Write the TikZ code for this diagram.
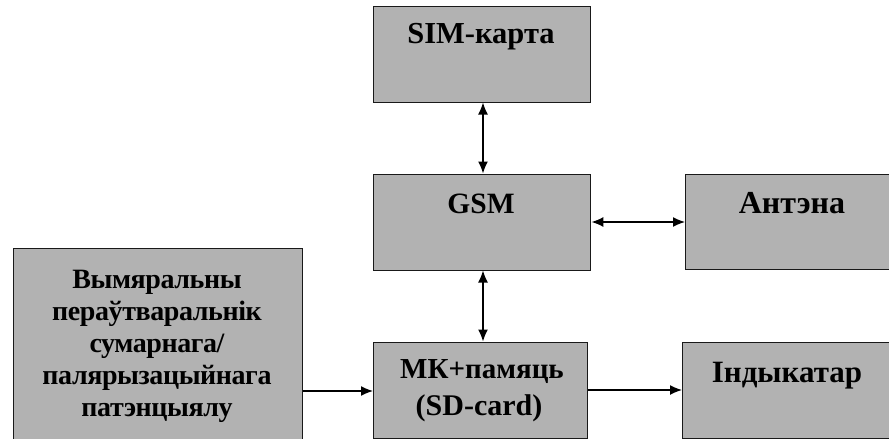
\documentclass[tikz,border=0pt]{standalone}
\usepackage{fontspec}
\setmainfont{Liberation Serif}
\usetikzlibrary{arrows.meta}
\begin{document}
\begin{tikzpicture}[x=1pt,y=-1pt,
  blk/.style={draw=black!90, line width=1.4pt, fill=boxgray, inner sep=0pt},
  txt/.style={font=\bfseries, anchor=base, inner sep=0pt, text=black},
  conn/.style={line width=1.4pt, -{Latex[length=12pt,width=10pt]}},
  bconn/.style={line width=1.4pt, {Latex[length=12pt,width=10pt]}-{Latex[length=12pt,width=10pt]}}]
\definecolor{boxgray}{RGB}{178,178,178}
\useasboundingbox (0,0) rectangle (889,439);
\clip (0,0) rectangle (889,439);
% boxes
\node[blk, minimum width=217pt, minimum height=96pt, anchor=north west] (sim) at (373,6) {};
\node[blk, minimum width=217pt, minimum height=96pt, anchor=north west] (gsm) at (373,174) {};
\node[blk, minimum width=220pt, minimum height=95pt, anchor=north west] (ant) at (685,174) {};
\node[blk, minimum width=214pt, minimum height=96pt, anchor=north west] (mk) at (373,342) {};
\node[blk, minimum width=220pt, minimum height=96pt, anchor=north west] (ind) at (682,342) {};
\node[blk, minimum width=289pt, minimum height=200pt, anchor=north west] (meas) at (13,248) {};
% texts
\node[txt, font=\bfseries\fontsize{30.5}{36}\selectfont] (simt) at (481,43) {SIM-карта};
\node[txt, font=\bfseries\fontsize{29.5}{36}\selectfont] (gsmt) at (481,213) {GSM};
\node[txt, font=\bfseries\fontsize{32}{36}\selectfont] (antt) at (792,213) {Антэна};
\node[txt, font=\bfseries\fontsize{29}{36}\selectfont] (mkt1) at (482,378) {МК+памяць};
\node[txt, font=\bfseries\fontsize{30}{36}\selectfont] (mkt2) at (479,415) {(SD-card)};
\node[txt, font=\bfseries\fontsize{31}{36}\selectfont] (indt) at (787,382) {Індыкатар};
\tikzset{lt/.style={txt, font=\bfseries\fontsize{28}{32}\selectfont\addfontfeature{LetterSpace=-1.5}}}
\node[lt] (m1) at (157,288) {Вымяральны};
\node[lt] (m2) at (157,320) {пераўтваральнік};
\node[lt] (m3) at (157,352) {сумарнага/};
\node[lt] (m4) at (157,384) {палярызацыйнага};
\node[lt] (m5) at (157,416) {патэнцыялу};
% connectors
\coordinate (a1) at (483,102.5);
\coordinate (a2) at (483,173.5);
\draw[bconn] (a1) -- (a2);
\coordinate (b1) at (483,270.5);
\coordinate (b2) at (483,341.5);
\draw[bconn] (b1) -- (b2);
\draw[bconn] (gsm.east |- 0,222) -- (ant.west |- 0,222);
\draw[conn] (meas.east |- 0,391) -- (mk.west |- 0,391);
\draw[conn] (mk.east |- 0,390) -- (ind.west |- 0,390);
\end{tikzpicture}
\end{document}
